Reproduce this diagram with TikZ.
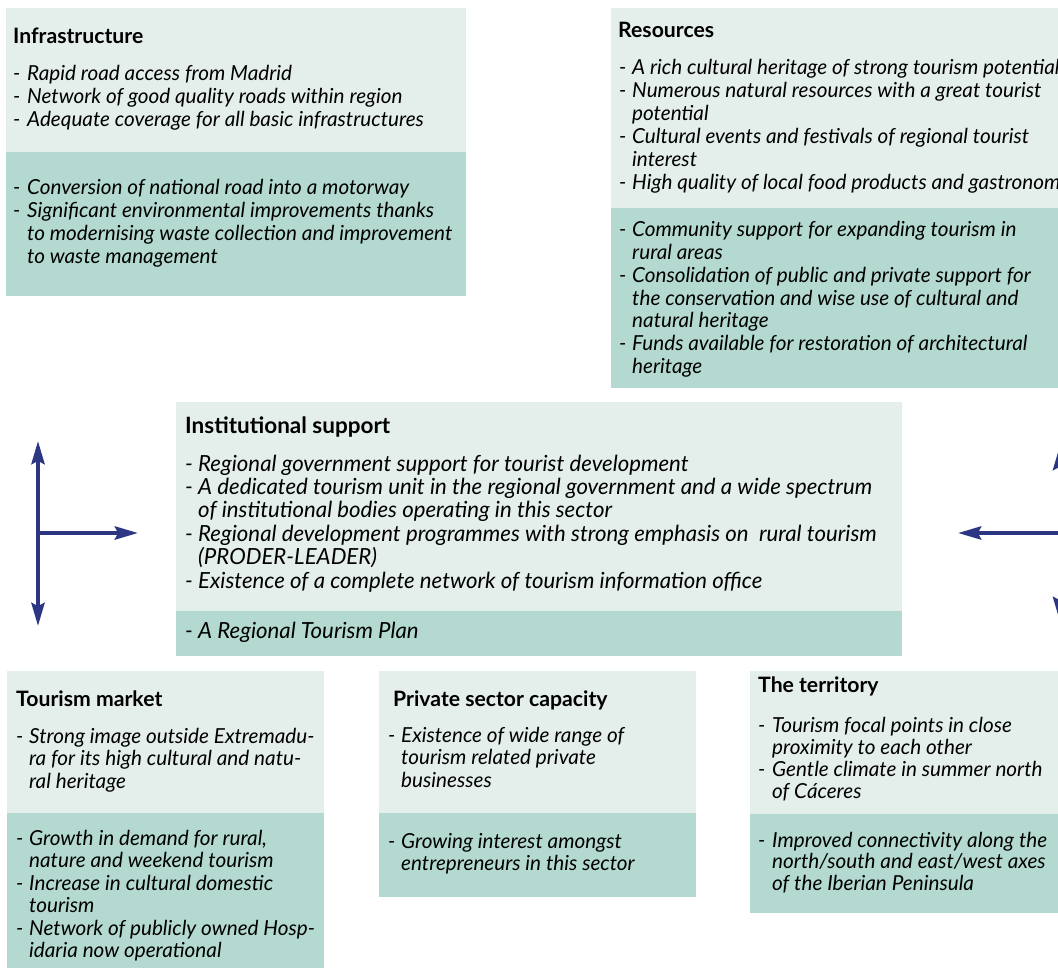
\documentclass[tikz,border=0pt]{standalone}
\usepackage{fontspec}
\setmainfont{Lato}
\usetikzlibrary{arrows.meta}
\definecolor{paleteal}{HTML}{E4EEEB}
\definecolor{deepteal}{HTML}{B3D9D1}
\definecolor{navyarrow}{HTML}{2C3682}
% dash of a list entry, and the matching indent of its continuation lines
\newcommand\bul[1][14pt]{\makebox[#1][l]{-}\ignorespaces}
\newcommand\ind[1][14pt]{\hspace*{#1}\ignorespaces}
% a block of left-aligned lines, with its baseline on the first line and a fixed line pitch
\newcommand\entries[1]{\vtop{\lineskiplimit=-50pt\relax\let\\\cr\halign{##\hfil\cr#1\crcr}}}
\begin{document}
\begin{tikzpicture}[x=1pt,y=-1pt,
  panel/.style={anchor=north west, inner sep=0pt, outer sep=0pt, draw=none},
  upper/.style={panel, fill=paleteal},
  lower/.style={panel, fill=deepteal},
  head/.style={anchor=base west, inner sep=0pt, font=\fontsize{21.2}{23}\selectfont\bfseries},
  item/.style={anchor=base west, inner sep=0pt, font=\fontsize{20.7}{#1}\selectfont\itshape},
  item/.default=23pt,
  link/.style={draw=navyarrow, line width=4pt, -{Stealth[length=23pt,width=13pt,inset=3pt]}},
]
\clip (0,0) rectangle (1058,968);

% ---------- Infrastructure ----------
\node[upper, minimum width=460pt, minimum height=144pt] (infraU) at (6,8) {};
\node[lower, minimum width=460pt, minimum height=144pt] (infraL) at (6,152) {};
\node[head] (infraH) at (13,44) {Infrastructure};
\node[item] (infraA) at (13,81) {\entries{\bul Rapid road access from Madrid\\
\bul Network of good quality roads within region\\
\bul Adequate coverage for all basic infrastructures}};
\node[item] (infraB) at (13,195) {\entries{\bul Conversion of national road into a motorway\\
\bul Significant environmental improvements thanks\\
\ind to modernising waste collection and improvement\\
\ind to waste management}};

% ---------- Resources ----------
\node[upper, minimum width=460pt, minimum height=200pt] (resU) at (611,8) {};
\node[lower, minimum width=460pt, minimum height=180pt] (resL) at (611,208) {};
\node[head] (resH) at (618,38) {Resources};
\node[item=22.9pt] (resA) at (619,75) {\entries{\bul[13pt] A rich cultural heritage of strong tourism potential\\
\bul[13pt] Numerous natural resources with a great tourist\\
\ind[13pt] potential\\
\bul[13pt] Cultural events and festivals of regional tourist\\
\ind[13pt] interest\\
\bul[13pt] High quality of local food products and gastronomy}};
\node[item=22.7pt] (resB) at (619,237) {\entries{\bul[13pt] Community support for expanding tourism in\\
\ind[13pt] rural areas\\
\bul[13pt] Consolidation of public and private support for\\
\ind[13pt] the conservation and wise use of cultural and\\
\ind[13pt] natural heritage\\
\bul[13pt] Funds available for restoration of architectural\\
\ind[13pt] heritage}};

% ---------- Institutional support ----------
\node[upper, minimum width=726pt, minimum height=209pt] (instU) at (176,402) {};
\node[lower, minimum width=726pt, minimum height=45pt] (instL) at (176,611) {};
\node[head, font=\fontsize{22.5}{24}\selectfont\bfseries] (instH) at (185,433) {Institutional support};
\node[item, font=\fontsize{22.2}{23.4}\selectfont\itshape] (instA) at (185,471) {\entries{\bul[13pt] Regional government support for tourist development\\
\bul[13pt] A dedicated tourism unit in the regional government and a wide spectrum\\
\ind[13pt] of institutional bodies operating in this sector\\
\bul[13pt] Regional development programmes with strong emphasis on\ \ rural tourism\\
\ind[13pt] (PRODER-LEADER)\\
\bul[13pt] Existence of a complete network of tourism information office}};
\node[item, font=\fontsize{22.2}{23.4}\selectfont\itshape] (instB) at (185,638) {\entries{\bul[13pt] A Regional Tourism Plan}};

% ---------- Tourism market ----------
\node[upper, minimum width=317pt, minimum height=142pt] (tmU) at (7,671) {};
\node[lower, minimum width=317pt, minimum height=155pt] (tmL) at (7,813) {};
\node[head] (tmH) at (16,706) {Tourism market};
\node[item=22.5pt] (tmA) at (16,743) {\entries{\bul[13pt] Strong image outside Extremadu-\\
\ind[13pt] ra for its high cultural and natu-\\
\ind[13pt] ral heritage}};
\node[item=22.5pt] (tmB) at (16,845) {\entries{\bul[13pt] Growth in demand for rural,\\
\ind[13pt] nature and weekend tourism\\
\bul[13pt] Increase in cultural domestic\\
\ind[13pt] tourism\\
\bul[13pt] Network of publicly owned Hosp-\\
\ind[13pt] idaria now operational}};

% ---------- Private sector capacity ----------
\node[upper, minimum width=317pt, minimum height=142pt] (psU) at (379,671) {};
\node[lower, minimum width=317pt, minimum height=84pt] (psL) at (379,813) {};
\node[head] (psH) at (393,706) {Private sector capacity};
\node[item=22.5pt] (psA) at (388,742) {\entries{\bul[13pt] Existence of wide range of\\
\ind[13pt] tourism related private\\
\ind[13pt] businesses}};
\node[item=22pt] (psB) at (388,848) {\entries{\bul[13pt] Growing interest amongst\\
\ind[13pt] entrepreneurs in this sector}};

% ---------- The territory ----------
\node[upper, minimum width=320pt, minimum height=143pt] (terU) at (750,671) {};
\node[lower, minimum width=320pt, minimum height=99pt] (terL) at (750,814) {};
\node[head] (terH) at (758,692) {The territory};
\node[item=22pt] (terA) at (758,732) {\entries{\bul Tourism focal points in close\\
\ind proximity to each other\\
\bul Gentle climate in summer north\\
\ind of Cáceres}};
\node[item=21.7pt] (terB) at (758,847) {\entries{\bul Improved connectivity along the\\
\ind north/south and east/west axes\\
\ind of the Iberian Peninsula}};

% ---------- arrows ----------
\coordinate (lc) at (38,533);
\coordinate (lt) at (38,441);
\coordinate (lb) at (38,626);
\coordinate (lr) at (138,533);
\draw[link] (lc) -- (lt);
\draw[link] (lc) -- (lb);
\draw[link] (lc) -- (lr);

\coordinate (rc) at (1059.5,533);
\coordinate (rt) at (1059.5,447);
\coordinate (rb) at (1059.5,620);
\coordinate (rl) at (958,533);
\draw[link] (rc) -- (rt);
\draw[link] (rc) -- (rb);
\draw[link] (rc) -- (rl);
\end{tikzpicture}
\end{document}
